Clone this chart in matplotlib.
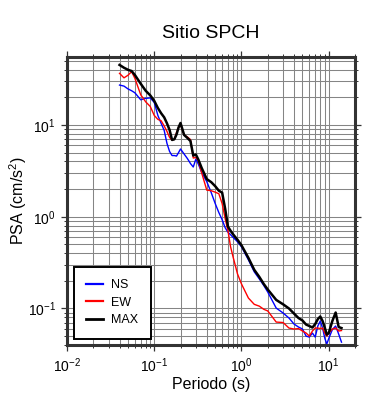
import matplotlib
matplotlib.use("Agg")
import matplotlib.pyplot as plt
from matplotlib.ticker import LogLocator, NullFormatter

plt.rcParams['font.family'] = ['Liberation Sans', 'DejaVu Sans']
plt.rcParams['mathtext.fontset'] = 'custom'
plt.rcParams['mathtext.rm'] = 'Liberation Sans'
plt.rcParams['mathtext.it'] = 'Liberation Sans'

period = [0.04, 0.045, 0.05, 0.055, 0.06, 0.07, 0.08, 0.09, 0.10, 0.11, 0.12, 0.13,
          0.14, 0.15, 0.16, 0.17, 0.18, 0.19, 0.20, 0.22, 0.24, 0.26, 0.28, 0.30,
          0.32, 0.35, 0.40, 0.45, 0.50, 0.55, 0.60, 0.65, 0.70, 0.75, 0.80, 0.90,
          1.0, 1.2, 1.4, 1.6, 1.8, 2.0, 2.5, 3.0, 3.5, 4.0, 4.5, 5.0, 5.5, 6.0,
          6.5, 7.0, 7.5, 8.0, 8.5, 9.0, 9.5, 10, 11, 12, 13, 14]

ns = [27.2, 26.5, 24.7, 23.6, 22.4, 18.8, 19.5, 19.7, 17.6, 12.7, 10.4, 8.71,
      6.28, 5.13, 4.64, 4.64, 4.58, 5.0, 5.47, 4.82, 4.3, 3.8, 3.48, 4.25,
      3.75, 3.03, 2.41, 1.83, 1.39, 1.11, 0.927, 0.758, 0.677, 0.636, 0.597, 0.533,
      0.470, 0.339, 0.251, 0.210, 0.178, 0.151, 0.101, 0.0893, 0.0787, 0.0677, 0.0628, 0.0597, 0.050, 0.0488,
      0.054, 0.0488, 0.0644, 0.073, 0.0612, 0.0476, 0.041, 0.047, 0.0589, 0.0644, 0.0526, 0.043]

ew = [36.5, 32.6, 34.8, 38.1, 32.2, 21.3, 17.8, 15.9, 12.7, 11.5, 11.1, 9.75,
      8.49, 7.3, 6.86, 6.98, 8.28, 9.4, 10.1, 7.78, 7.39, 6.94, 4.36, 4.42,
      4.09, 2.99, 1.95, 1.92, 1.85, 1.78, 1.39, 0.951, 0.703, 0.470, 0.366, 0.238,
      0.185, 0.130, 0.111, 0.106, 0.098, 0.094, 0.0711, 0.0703, 0.0612, 0.0597, 0.0604, 0.0568, 0.054, 0.050,
      0.0568, 0.0612, 0.0612, 0.0604, 0.0612, 0.054, 0.050, 0.054, 0.0597, 0.0612, 0.0568, 0.0575]

mx = [45.1, 42.0, 39.9, 38.7, 35.0, 28.1, 23.5, 21.0, 18.3, 15.3, 13.4, 12.1,
      10.4, 8.8, 6.86, 6.98, 7.87, 9.4, 10.5, 7.78, 7.21, 6.68, 4.64, 4.76,
      4.2, 3.39, 2.57, 2.38, 2.15, 1.92, 1.83, 1.22, 0.778, 0.703, 0.644, 0.561,
      0.488, 0.356, 0.264, 0.221, 0.185, 0.161, 0.124, 0.111, 0.100, 0.088, 0.0787, 0.074, 0.0668, 0.0644,
      0.062, 0.0677, 0.0767, 0.0818, 0.073, 0.062, 0.052, 0.054, 0.073, 0.0904, 0.0628, 0.0612]

fig = plt.figure(figsize=(3.9, 4.0), dpi=100)
ax = fig.add_axes([67/390, 1-345/400, (355-67)/390, (345-57)/400])

ax.plot(period, ns, color='#0000ff', lw=1.0, label='NS')
ax.plot(period, ew, color='#ff0000', lw=1.0, label='EW')
ax.plot(period, mx, color='black', lw=1.8, label='MAX')

ax.set_xscale('log')
ax.set_yscale('log')
ax.set_xlim(0.01, 20)
ax.set_ylim(0.04, 55)

ax.xaxis.set_major_locator(LogLocator(base=10, numticks=10))
ax.yaxis.set_major_locator(LogLocator(base=10, numticks=10))
ax.xaxis.set_minor_locator(LogLocator(base=10, subs=range(2, 10), numticks=20))
ax.yaxis.set_minor_locator(LogLocator(base=10, subs=range(2, 10), numticks=20))
ax.xaxis.set_minor_formatter(NullFormatter())
ax.yaxis.set_minor_formatter(NullFormatter())

ax.grid(which='both', color='#858585', lw=0.75)
ax.set_axisbelow(True)

ax.tick_params(which='both', direction='out', top=True, right=True, colors='#333333',
               labelcolor='black', labelsize=10)
ax.tick_params(which='major', length=4.5, width=0.9)
ax.tick_params(which='minor', length=2.5, width=0.7)
for s in ax.spines.values():
    s.set_linewidth(2.2)
    s.set_color('#333333')

ax.set_xlabel('Periodo (s)', fontsize=11.5, labelpad=2)
ax.set_ylabel('PSA (cm/s$^2$)', fontsize=11.5, labelpad=-1)
ax.set_title('Sitio SPCH', fontsize=14, pad=14)

leg = ax.legend(loc='lower left', bbox_to_anchor=(0.024, 0.021), fancybox=False,
                edgecolor='black', framealpha=1, fontsize=9, handlelength=1.3,
                borderpad=1.0, labelspacing=0.45, handletextpad=0.7, borderaxespad=0)
leg.get_frame().set_linewidth(1.4)
for h in leg.get_lines()[:2]:
    h.set_linewidth(1.6)
for h in leg.get_lines()[2:]:
    h.set_linewidth(2.0)

fig.savefig('out.png', dpi=100)
